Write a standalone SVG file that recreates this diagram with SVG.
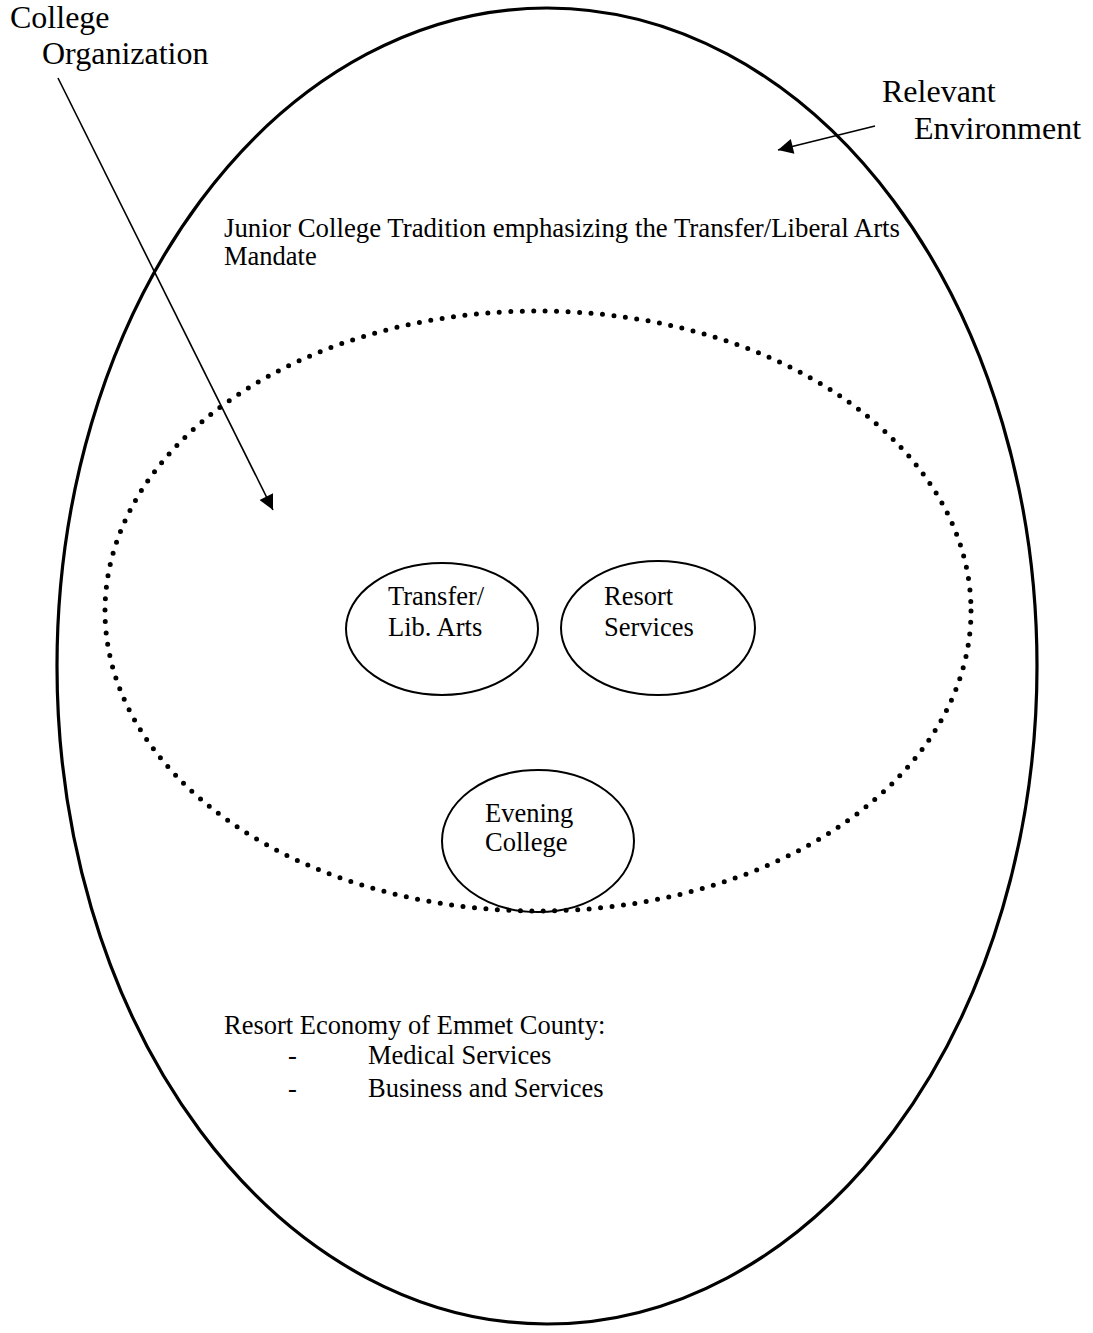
<svg xmlns="http://www.w3.org/2000/svg" width="1093" height="1333" viewBox="0 0 1093 1333">
<style>
text{font-family:"Liberation Serif","Times New Roman",serif;fill:#000;font-size:26.5px}
.big{font-size:32px}
.unit{fill:none;stroke:#000;stroke-width:2}
.conn{fill:none;stroke:#000;stroke-width:1.6}
</style>
<defs>
<marker id="ah2" viewBox="0 0 10 10" refX="10" refY="5" markerWidth="16" markerHeight="15" markerUnits="userSpaceOnUse" orient="auto">
<path d="M0,0 L10,5 L0,10 z" fill="#000"/>
</marker>
</defs>
<rect width="1093" height="1333" fill="#fff"/>
<g id="environment">
<ellipse cx="547" cy="666" rx="490" ry="658" fill="none" stroke="#000" stroke-width="3.2"/>
<text x="224" y="237" textLength="676" lengthAdjust="spacingAndGlyphs">Junior College Tradition emphasizing the Transfer/Liberal Arts</text>
<text x="224" y="265">Mandate</text>
<text x="224" y="1034">Resort Economy of Emmet County:</text>
<text x="288" y="1064">-</text>
<text x="368" y="1064">Medical Services</text>
<text x="288" y="1097">-</text>
<text x="368" y="1097">Business and Services</text>
</g>
<g id="college-organization">
<ellipse cx="538" cy="611" rx="433" ry="300" fill="none" stroke="#000" stroke-width="5" stroke-linecap="round" stroke-dasharray="0 11.5"/>
</g>
<g id="transfer">
<ellipse class="unit" cx="442" cy="629" rx="96" ry="66"/>
<text x="388" y="605">Transfer/</text>
<text x="388" y="636">Lib. Arts</text>
</g>
<g id="resort">
<ellipse class="unit" cx="658" cy="628" rx="97" ry="67"/>
<text x="604" y="605">Resort</text>
<text x="604" y="636">Services</text>
</g>
<g id="evening">
<ellipse class="unit" cx="538" cy="841" rx="96" ry="71"/>
<text x="485" y="822">Evening</text>
<text x="485" y="851">College</text>
</g>
<g id="label-college">
<text class="big" x="10" y="28">College</text>
<text class="big" x="42" y="64">Organization</text>
</g>
<g id="label-environment">
<text class="big" x="882" y="102">Relevant</text>
<text class="big" x="914" y="139">Environment</text>
</g>
<g id="connectors">
<line class="conn" x1="58" y1="78" x2="273" y2="510" marker-end="url(#ah2)"/>
<line class="conn" x1="875" y1="126" x2="778" y2="150" marker-end="url(#ah2)"/>
</g>
</svg>
